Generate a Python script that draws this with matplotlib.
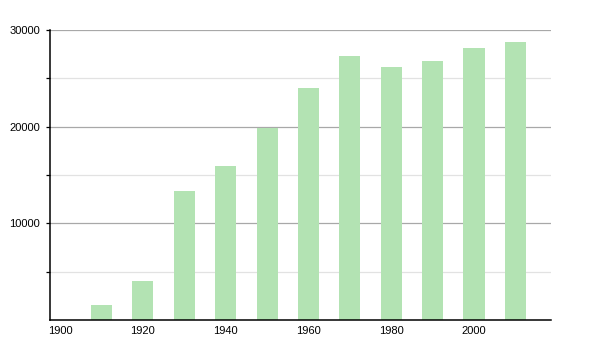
import matplotlib
matplotlib.use("Agg")
import matplotlib.pyplot as plt

# Population by census year
years = [1910, 1920, 1930, 1940, 1950, 1960, 1970, 1980, 1990, 2000, 2010]
population = [1550, 4050, 13380, 15950, 19880, 24020, 27340, 26170, 26800, 28170, 28760]

x_ticks = [1900, 1920, 1940, 1960, 1980, 2000]
y_major = [10000, 20000, 30000]
y_minor = [5000, 15000, 25000]

plt.rcParams['font.family'] = ['Liberation Sans', 'DejaVu Sans']

fig = plt.figure(figsize=(6, 3.5), dpi=100)
ax = fig.add_axes([50 / 600, 30 / 350, 501 / 600, 290 / 350])

ax.bar(years, population, width=5.1, color='#b3e3b3', zorder=2)

ax.set_xlim(1897.55, 2018.6)
ax.set_ylim(0, 30000)

ax.set_xticks(x_ticks)
ax.set_xticklabels([str(t) for t in x_ticks])
ax.set_yticks(y_major)
ax.set_yticklabels([str(v) for v in y_major])
ax.set_yticks(y_minor, minor=True)

ax.grid(axis='y', which='major', color='#a8a8a8', linewidth=0.9, zorder=0)
ax.grid(axis='y', which='minor', color='#e2e2e2', linewidth=0.9, zorder=0)
ax.set_axisbelow(True)

ax.tick_params(axis='x', length=0, pad=4, labelsize=8)
ax.tick_params(axis='y', which='major', length=3, width=0.9, pad=4, labelsize=8)
ax.tick_params(axis='y', which='minor', length=3, width=0.9)

for side in ['top', 'right']:
    ax.spines[side].set_visible(False)
for side in ['left', 'bottom']:
    ax.spines[side].set_color('black')
    ax.spines[side].set_linewidth(1.1)

fig.savefig("out.png", dpi=100)
